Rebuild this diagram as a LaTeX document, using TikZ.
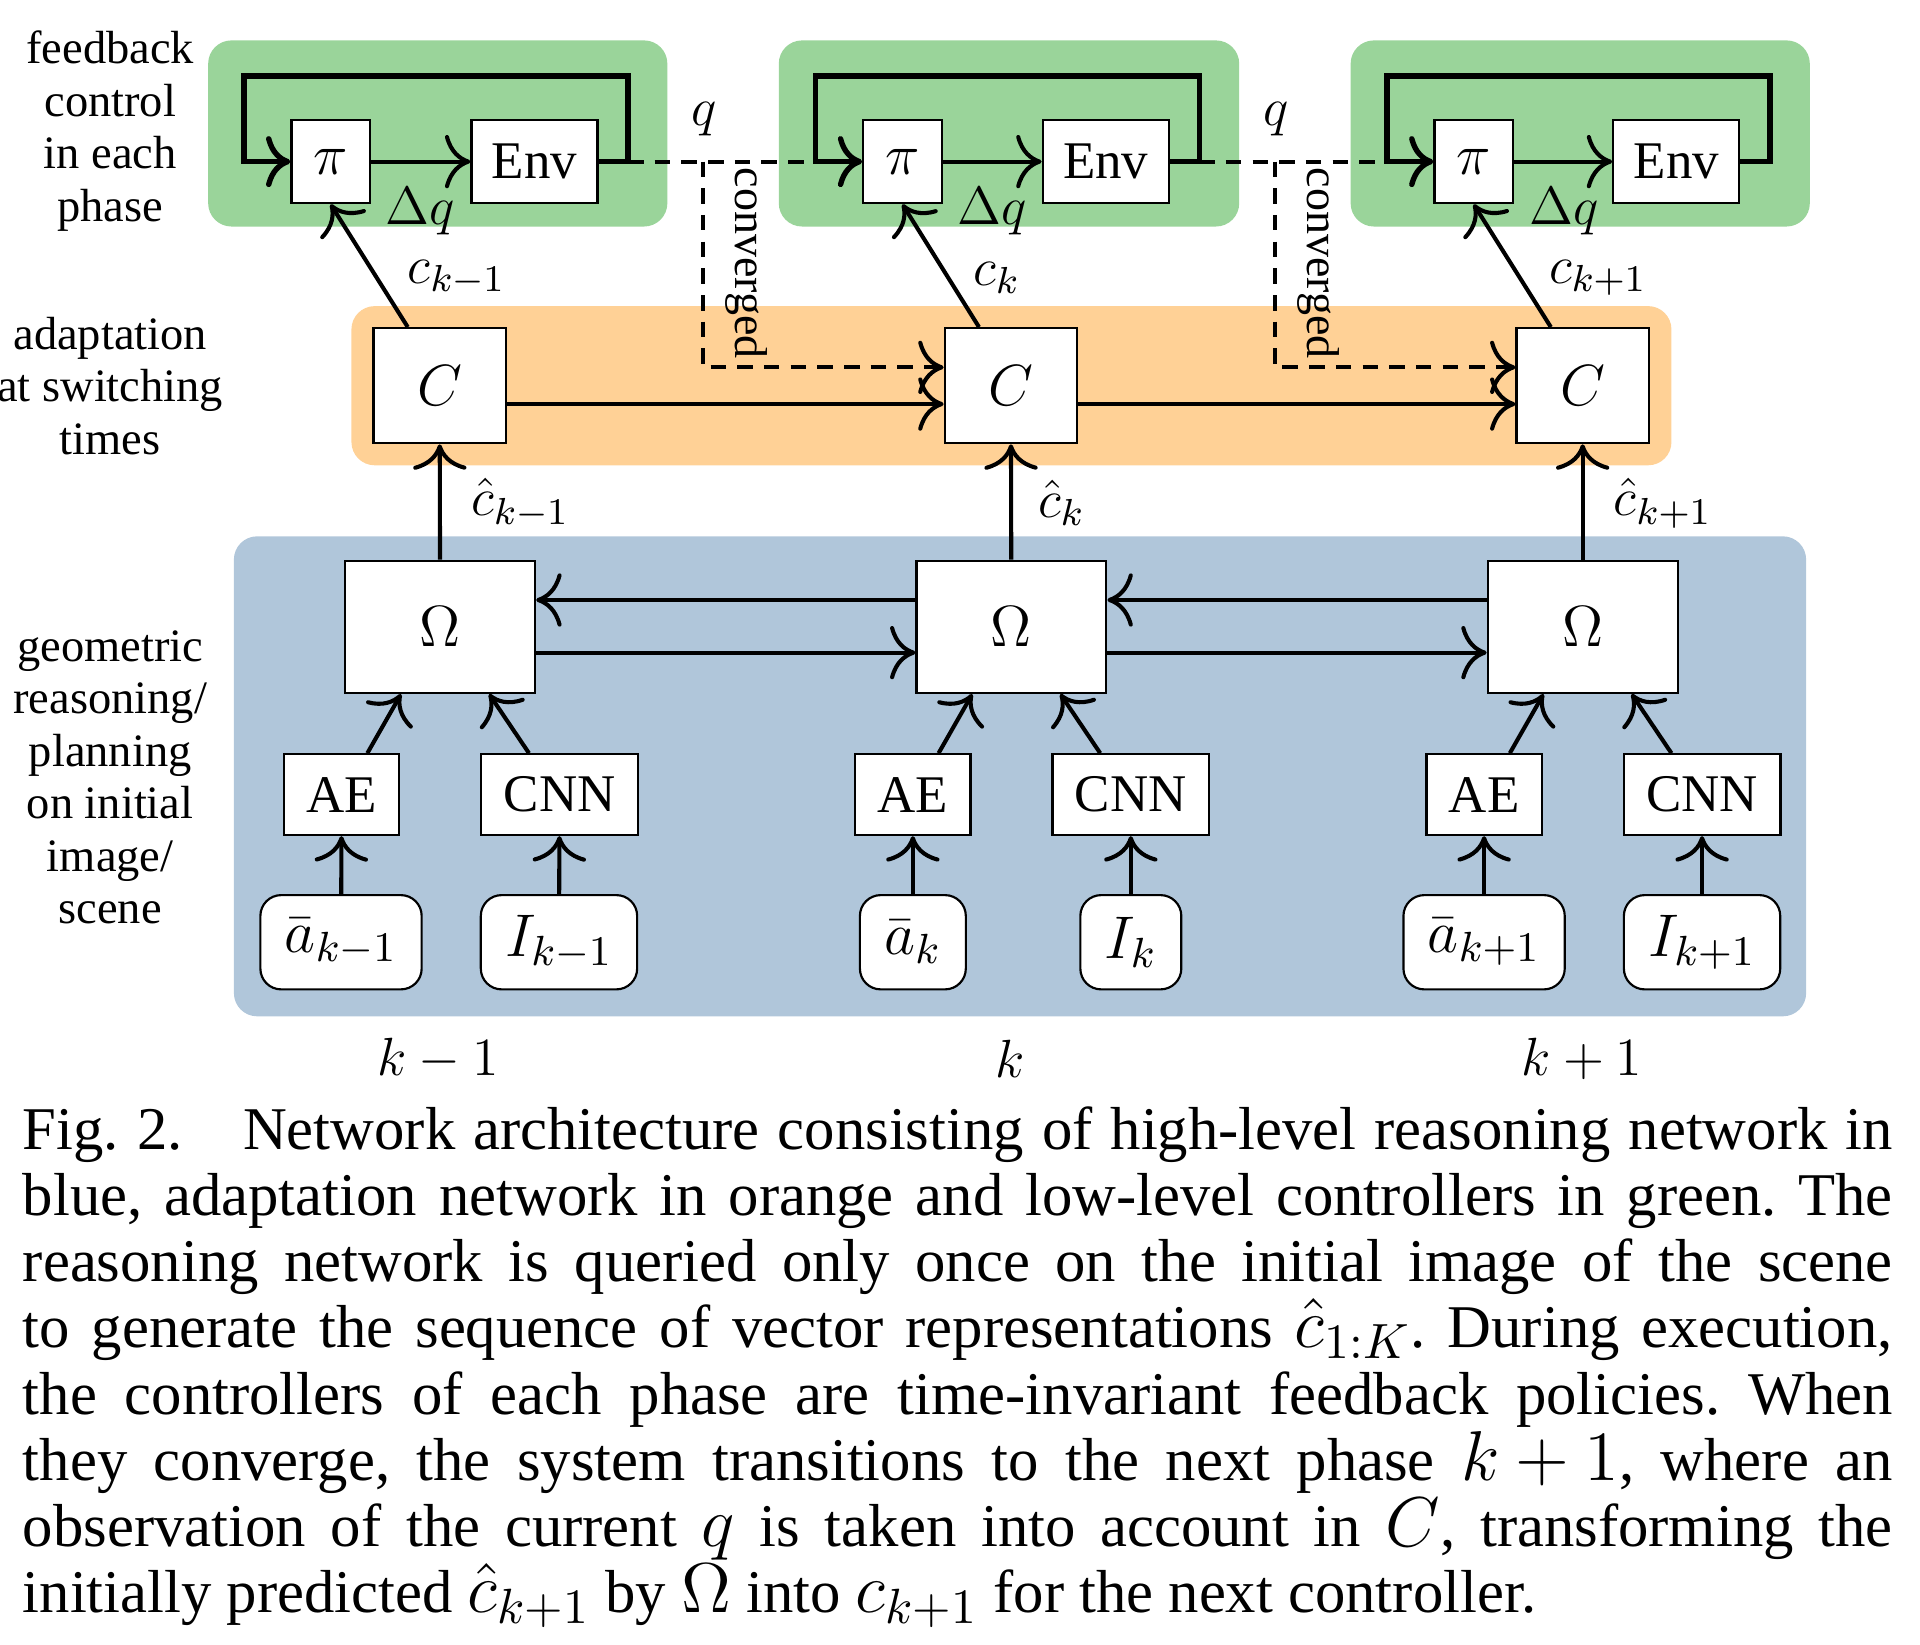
\RequirePackage{fix-cm}
\documentclass[tikz,border=0pt]{standalone}
\usepackage[no-math]{fontspec}
\setmainfont{Liberation Serif}
\usetikzlibrary{arrows.meta}
\usetikzlibrary{calc}

\definecolor{ctrlgreen}{RGB}{154,212,154}
\definecolor{adaptorange}{RGB}{255,209,150}
\definecolor{reasonblue}{RGB}{176,198,218}

% caption math a little larger than its text
\DeclareMathSizes{14.1}{16.4}{11.5}{8.2}
\newcommand\capfont{\fontsize{14.1}{15.37}\selectfont\frenchspacing}

\tikzset{
  blk/.style={draw, fill=white, line width=0.5pt, inner sep=0pt, font=\fontsize{12.3}{14}\selectfont},
  mth/.style={font=\fontsize{13.5}{15}\selectfont},
  inbox/.style={draw, fill=white, line width=0.5pt, rounded corners=0.17cm, minimum height=0.77cm, inner xsep=0.2cm, font=\fontsize{14}{16}\selectfont},
  side/.style={align=center, inner sep=0pt, font=\fontsize{10.8}{12.2}\selectfont},
  lbl/.style={inner sep=0pt, font=\fontsize{12.5}{14}\selectfont},
  conv/.style={inner sep=0pt, rotate=-90, font=\fontsize{10.7}{12}\selectfont},
  zone/.style={rounded corners=0.19cm},
  flow/.style={-{Computer Modern Rightarrow[scale=1.6]}, line width=0.95pt},
  fb/.style={-{Computer Modern Rightarrow[scale=1.3]}, line width=1.25pt},
  qline/.style={line width=0.95pt, dash pattern=on 3.6pt off 2.6pt},
}
% one justified caption line
\newcommand\capline[1]{\par\noindent\hbox to\hsize{\XeTeXinterwordspaceshaping=0 \spaceskip=0.25em plus 0.3em minus 0.09em\relax #1}\par}

\begin{document}
\begin{tikzpicture}
\useasboundingbox (0,0) rectangle (15.68,-13.43);

% coloured zones
\fill[zone, ctrlgreen] (1.70,-0.33) rectangle (5.45,-1.85);
\fill[zone, ctrlgreen] (6.36,-0.33) rectangle (10.12,-1.85);
\fill[zone, ctrlgreen] (11.03,-0.33) rectangle (14.78,-1.85);
\fill[zone, adaptorange] (2.87,-2.50) rectangle (13.65,-3.80);
\fill[zone, reasonblue] (1.91,-4.38) rectangle (14.75,-8.30);

% side labels
\draw node[side] (lfeed) at (0.90,-1.07) {feedback\\control\\in each\\phase};
\draw node[side] (ladapt) at (0.90,-3.15) {adaptation\\at switching\\times};
\draw node[side] (lgeo) at (0.90,-6.35) {geometric\\reasoning/\\planning\\on initial\\image/\\scene};

% phase k-1
\draw node[blk, mth, minimum width=0.64cm, minimum height=0.68cm] (pi1) at (2.70,-1.32) {$\pi$};
\draw node[blk, minimum width=1.03cm, minimum height=0.68cm] (env1) at (4.365,-1.32) {Env};
\draw node[blk, mth, minimum width=1.08cm, minimum height=0.94cm] (C1) at (3.59,-3.15) {$C$};
\draw node[blk, mth, minimum width=1.55cm, minimum height=1.08cm] (om1) at (3.595,-5.12) {$\Omega$};
\draw node[blk, minimum width=0.94cm, minimum height=0.66cm] (ae1) at (2.79,-6.49) {AE};
\draw node[blk, minimum width=1.28cm, minimum height=0.66cm] (cnn1) at (4.57,-6.49) {CNN};
\draw node[inbox] (a1) at (2.785,-7.695) {$\bar{a}_{k-1}$};
\draw node[inbox] (img1) at (4.565,-7.695) {$I_{k-1}$};

% phase k
\draw node[blk, mth, minimum width=0.64cm, minimum height=0.68cm] (pi2) at (7.37,-1.32) {$\pi$};
\draw node[blk, minimum width=1.03cm, minimum height=0.68cm] (env2) at (9.03,-1.32) {Env};
\draw node[blk, mth, minimum width=1.08cm, minimum height=0.94cm] (C2) at (8.255,-3.15) {$C$};
\draw node[blk, mth, minimum width=1.55cm, minimum height=1.08cm] (om2) at (8.26,-5.12) {$\Omega$};
\draw node[blk, minimum width=0.94cm, minimum height=0.66cm] (ae2) at (7.455,-6.49) {AE};
\draw node[blk, minimum width=1.28cm, minimum height=0.66cm] (cnn2) at (9.235,-6.49) {CNN};
\draw node[inbox] (a2) at (7.455,-7.695) {$\bar{a}_{k}$};
\draw node[inbox] (img2) at (9.235,-7.695) {$I_{k}$};

% phase k+1
\draw node[blk, mth, minimum width=0.64cm, minimum height=0.68cm] (pi3) at (12.035,-1.32) {$\pi$};
\draw node[blk, minimum width=1.03cm, minimum height=0.68cm] (env3) at (13.69,-1.32) {Env};
\draw node[blk, mth, minimum width=1.08cm, minimum height=0.94cm] (C3) at (12.925,-3.15) {$C$};
\draw node[blk, mth, minimum width=1.55cm, minimum height=1.08cm] (om3) at (12.925,-5.12) {$\Omega$};
\draw node[blk, minimum width=0.94cm, minimum height=0.66cm] (ae3) at (12.12,-6.49) {AE};
\draw node[blk, minimum width=1.28cm, minimum height=0.66cm] (cnn3) at (13.90,-6.49) {CNN};
\draw node[inbox] (a3) at (12.12,-7.695) {$\bar{a}_{k+1}$};
\draw node[inbox] (img3) at (13.90,-7.695) {$I_{k+1}$};

% feedback loops
\draw[flow] (pi1) -- (env1);
\draw[flow] (pi2) -- (env2);
\draw[flow] (pi3) -- (env3);
\draw[fb] (env1.east) -- ++(0.24,0) -- ++(0,0.70) -| ([xshift=-0.38cm]pi1.west) -- (pi1.west);
\draw[fb] (env2.east) -- ++(0.24,0) -- ++(0,0.70) -| ([xshift=-0.38cm]pi2.west) -- (pi2.west);
\draw[fb] (env3.east) -- ++(0.24,0) -- ++(0,0.70) -| ([xshift=-0.38cm]pi3.west) -- (pi3.west);
\draw node[lbl] (dq1) at (3.43,-1.725) {$\Delta q$};
\draw node[lbl] (dq2) at (8.10,-1.725) {$\Delta q$};
\draw node[lbl] (dq3) at (12.77,-1.725) {$\Delta q$};

% switching
\draw[qline] ([xshift=0.24cm]env1.east) -- ([xshift=-0.38cm]pi2.west);
\draw[qline] ([xshift=0.24cm]env2.east) -- ([xshift=-0.38cm]pi3.west);
\coordinate (sw1) at (5.74,-1.32);
\coordinate (sw2) at (10.41,-1.32);
\draw[qline, -{Computer Modern Rightarrow[scale=1.6]}] (sw1) |- ([yshift=0.15cm]C2.west);
\draw[qline, -{Computer Modern Rightarrow[scale=1.6]}] (sw2) |- ([yshift=0.15cm]C3.west);
\draw node[lbl] (q1) at (5.75,-0.97) {$q$};
\draw node[lbl] (q2) at (10.42,-0.97) {$q$};
\draw node[conv] (conv1) at (6.10,-2.15) {converged};
\draw node[conv] (conv2) at (10.77,-2.15) {converged};

% adaptation
\draw[flow] ([yshift=-0.15cm]C1.east) -- ([yshift=-0.15cm]C2.west);
\draw[flow] ([yshift=-0.15cm]C2.east) -- ([yshift=-0.15cm]C3.west);
\draw[flow] ([xshift=-0.26cm]C1.north) -- (pi1.south);
\draw[flow] ([xshift=-0.26cm]C2.north) -- (pi2.south);
\draw[flow] ([xshift=-0.26cm]C3.north) -- (pi3.south);
\draw node[lbl] (c1) at (3.73,-2.27) {$c_{k-1}$};
\draw node[lbl] (c2) at (8.14,-2.27) {$c_{k}$};
\draw node[lbl] (c3) at (13.05,-2.27) {$c_{k+1}$};

% reasoning
\draw[flow] (om1) -- (C1);
\draw[flow] (om2) -- (C2);
\draw[flow] (om3) -- (C3);
\draw node[lbl] (ch1) at (4.25,-4.11) {$\hat{c}_{k-1}$};
\draw node[lbl] (ch2) at (8.67,-4.11) {$\hat{c}_{k}$};
\draw node[lbl] (ch3) at (13.58,-4.11) {$\hat{c}_{k+1}$};
\draw[flow] ([yshift=0.22cm]om2.west) -- ([yshift=0.22cm]om1.east);
\draw[flow] ([yshift=-0.21cm]om1.east) -- ([yshift=-0.21cm]om2.west);
\draw[flow] ([yshift=0.22cm]om3.west) -- ([yshift=0.22cm]om2.east);
\draw[flow] ([yshift=-0.21cm]om2.east) -- ([yshift=-0.21cm]om3.west);
\draw[flow] ([xshift=0.21cm]ae1.north) -- ([xshift=-0.32cm]om1.south);
\draw[flow] ([xshift=-0.25cm]cnn1.north) -- ([xshift=0.40cm]om1.south);
\draw[flow] ([xshift=0.21cm]ae2.north) -- ([xshift=-0.32cm]om2.south);
\draw[flow] ([xshift=-0.25cm]cnn2.north) -- ([xshift=0.40cm]om2.south);
\draw[flow] ([xshift=0.21cm]ae3.north) -- ([xshift=-0.32cm]om3.south);
\draw[flow] ([xshift=-0.25cm]cnn3.north) -- ([xshift=0.40cm]om3.south);
\draw[flow] (a1) -- (ae1);
\draw[flow] (img1) -- (cnn1);
\draw[flow] (a2) -- (ae2);
\draw[flow] (img2) -- (cnn2);
\draw[flow] (a3) -- (ae3);
\draw[flow] (img3) -- (cnn3);

% phase indices
\draw node[lbl] (k1) at (3.58,-8.65) {$k-1$};
\draw node[lbl] (k2) at (8.25,-8.65) {$k$};
\draw node[lbl] (k3) at (12.92,-8.65) {$k+1$};

% caption
\draw node[anchor=north west, inner sep=0pt, text width=15.27cm, font=\capfont] (caption) at (0.18,-8.84) {%
\capline{Fig. 2.\hspace{0.7em} Network architecture consisting of high-level reasoning network in}%
\capline{blue, adaptation network in orange and low-level controllers in green. The}%
\capline{reasoning network is queried only once on the initial image of the scene}%
\capline{to generate the sequence of vector representations $\hat{c}_{1:K}$. During execution,}%
\capline{the controllers of each phase are time-invariant feedback policies. When}%
\capline{they converge, the system transitions to the next phase \mbox{$k+1$}, where an}%
\capline{observation of the current $q$ is taken into account in $C$, transforming the}%
\capline{initially predicted $\hat{c}_{k+1}$ by $\Omega$ into $c_{k+1}$ for the next controller.\hfil}};
\end{tikzpicture}
\end{document}
